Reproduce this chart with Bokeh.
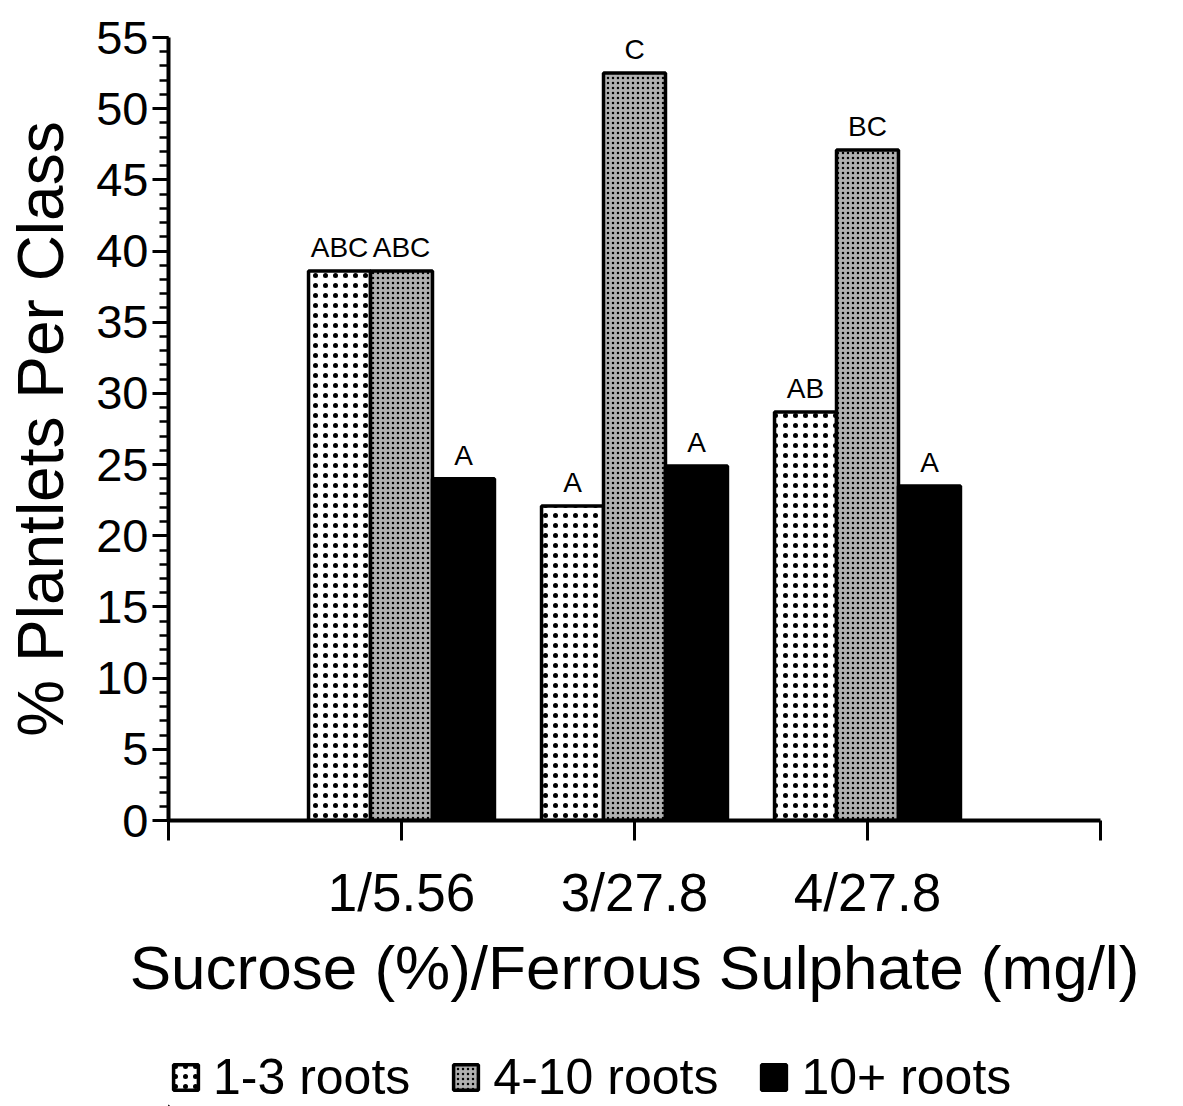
from bokeh.plotting import figure
from bokeh.layouts import column
from bokeh.models import (Range1d, FixedTicker, SingleIntervalTicker, Legend, LegendItem,
                          ColumnDataSource)
from bokeh.transform import dodge
from bokeh.core.properties import value
from bokeh.embed import file_html
from bokeh.resources import INLINE

categories = ["1/5.56", "3/27.8", "4/27.8"]
series_names = ["1-3 roots", "4-10 roots", "10+ roots"]
roots_1_3 = [38.6, 22.1, 28.7]
roots_4_10 = [38.6, 52.5, 47.1]
roots_10_plus = [24.0, 24.9, 23.5]
letters_1_3 = ["ABC", "A", "AB"]
letters_4_10 = ["ABC", "C", "BC"]
letters_10_plus = ["A", "A", "A"]

xpos = [1, 2, 3]
src = ColumnDataSource(dict(
    x=xpos, a=roots_1_3, b=roots_4_10, c=roots_10_plus,
    la=letters_1_3, lb=letters_4_10, lc=letters_10_plus))

SANS = "Liberation Sans"

STYLES = [
    dict(fill_color="white", line_color="black", line_width=3.5,
         hatch_pattern="dot", hatch_color="black", hatch_scale=10, hatch_weight=0.6),
    dict(fill_color="#b0b0b0", line_color="black", line_width=3.5,
         hatch_pattern="dot", hatch_color="black", hatch_scale=5, hatch_weight=0.8),
    dict(fill_color="black", line_color="black", line_width=3.5),
]

p = figure(width=1183, height=1026, output_backend="svg", toolbar_location=None,
           x_range=Range1d(0, 4), y_range=Range1d(0, 55),
           min_border_left=168, min_border_right=83, min_border_top=37,
           min_border_bottom=206)
p.outline_line_color = None
p.xgrid.visible = False
p.ygrid.visible = False
p.background_fill_color = "white"
p.border_fill_color = "white"

W = 0.266
p.vbar(x=dodge("x", -W, range=p.x_range), top="a", width=W, source=src, **STYLES[0])
p.vbar(x=dodge("x", 0, range=p.x_range), top="b", width=W, source=src, **STYLES[1])
p.vbar(x=dodge("x", W, range=p.x_range), top="c", width=W, source=src, **STYLES[2])

for col, lab, off in (("a", "la", -W), ("b", "lb", 0), ("c", "lc", W)):
    p.text(x=dodge("x", off, range=p.x_range), y=col, text=lab, source=src,
           text_align="center", text_baseline="bottom", y_offset=-8,
           text_font=value(SANS), text_font_size="28px", text_color="black")

# x axis
xa = p.xaxis[0]
xa.ticker = FixedTicker(ticks=[0, 1, 2, 3, 4])
xa.major_label_overrides = {0: "", 1: categories[0], 2: categories[1], 3: categories[2], 4: ""}
xa.major_tick_out = 20
xa.major_tick_in = 0
xa.minor_tick_line_color = None
xa.axis_line_width = 4
xa.major_tick_line_width = 3
xa.major_label_text_font = SANS
xa.major_label_text_font_size = "53px"
xa.major_label_text_color = "black"
xa.major_label_standoff = 22
xa.axis_label = "Sucrose (%)/Ferrous Sulphate (mg/l)"
xa.axis_label_text_font = SANS
xa.axis_label_text_font_size = "62px"
xa.axis_label_text_font_style = "normal"
xa.axis_label_text_color = "black"
xa.axis_label_standoff = 8

# y axis
ya = p.yaxis[0]
ya.ticker = SingleIntervalTicker(interval=5, num_minor_ticks=5)
ya.major_tick_out = 16
ya.major_tick_in = 0
ya.minor_tick_out = 9
ya.minor_tick_in = 0
ya.axis_line_width = 4
ya.major_tick_line_width = 3
ya.minor_tick_line_width = 2.5
ya.major_label_text_font = SANS
ya.major_label_text_font_size = "47px"
ya.major_label_text_color = "black"
ya.major_label_standoff = 4
ya.axis_label = "% Plantlets Per Class"
ya.axis_label_text_font = SANS
ya.axis_label_text_font_size = "64px"
ya.axis_label_text_font_style = "normal"
ya.axis_label_text_color = "black"
ya.axis_label_standoff = 16

# legend strip below the chart (proxy renderers sit outside the visible range)
lg = figure(width=1183, height=80, output_backend="svg", toolbar_location=None,
            x_range=Range1d(0, 1), y_range=Range1d(0, 1),
            x_axis_type=None, y_axis_type=None, min_border=0)
lg.outline_line_color = None
lg.xgrid.visible = False
lg.ygrid.visible = False
lg.background_fill_color = "white"
lg.border_fill_color = "white"
proxy = ColumnDataSource(dict(x=[-10.0], top=[-10.0]))
items = []
for name, st in zip(series_names, STYLES):
    rr = lg.vbar(x="x", top="top", bottom=-11.0, width=0.1, source=proxy, **st)
    items.append(LegendItem(label=name, renderers=[rr], index=0))

legend = Legend(items=items, orientation="horizontal", location=(2, 0),
                glyph_width=31, glyph_height=32, label_standoff=12, spacing=40,
                label_text_font=SANS, label_text_font_size="50px",
                label_text_color="black",
                border_line_color=None, background_fill_alpha=0,
                padding=0, margin=0)
lg.add_layout(legend, "center")

layout = column(p, lg, spacing=0)
open("out.html", "w").write(file_html(layout, INLINE))
